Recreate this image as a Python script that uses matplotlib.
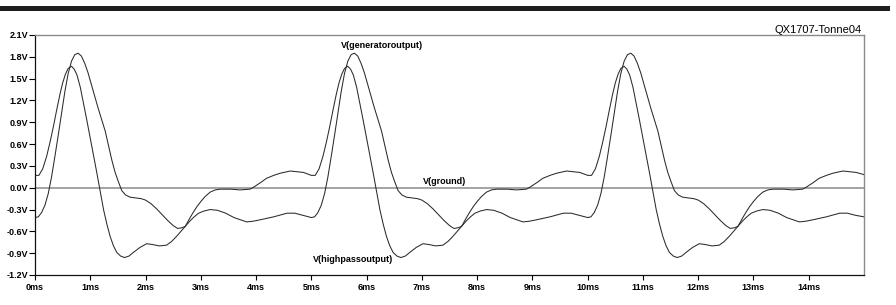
import matplotlib
matplotlib.use("Agg")
import matplotlib.pyplot as plt
from matplotlib.patches import Rectangle

plt.rcParams['font.family'] = ['Liberation Sans', 'DejaVu Sans']

# V(highpassoutput): time (ms) and voltage (V)
hp_ms = [
    0.00, 0.07, 0.14, 0.21, 0.27, 0.33, 0.39, 0.45, 0.50, 0.55, 0.60, 0.66, 0.71, 0.76, 0.82, 0.88, 0.94, 1.00, 1.06,
    1.12, 1.18, 1.24, 1.30, 1.36, 1.42, 1.48, 1.55, 1.62, 1.70, 1.78, 1.90, 2.02, 2.12, 2.25, 2.38, 2.47, 2.56, 2.64,
    2.72, 2.80, 2.87, 2.93, 3.00, 3.08, 3.17, 3.26, 3.35, 3.55, 3.71, 3.89, 3.96, 4.08, 4.19, 4.32, 4.44, 4.62, 4.86,
    5.00, 5.07, 5.14, 5.21, 5.27, 5.33, 5.39, 5.45, 5.50, 5.55, 5.60, 5.66, 5.71, 5.76, 5.82, 5.88, 5.94, 6.00, 6.06,
    6.12, 6.18, 6.24, 6.30, 6.36, 6.42, 6.48, 6.55, 6.62, 6.70, 6.78, 6.90, 7.02, 7.12, 7.25, 7.38, 7.47, 7.56, 7.64,
    7.72, 7.80, 7.87, 7.93, 8.00, 8.08, 8.17, 8.26, 8.35, 8.55, 8.71, 8.89, 8.96, 9.08, 9.19, 9.32, 9.44, 9.62, 9.86,
    10.00, 10.07, 10.14, 10.21, 10.27, 10.33, 10.39, 10.45, 10.50, 10.55, 10.60, 10.66, 10.71, 10.76, 10.82, 10.88,
    10.94, 11.00, 11.06, 11.12, 11.18, 11.24, 11.30, 11.36, 11.42, 11.48, 11.55, 11.62, 11.70, 11.78, 11.90, 12.02,
    12.12, 12.25, 12.38, 12.47, 12.56, 12.64, 12.72, 12.80, 12.87, 12.93, 13.00, 13.08, 13.17, 13.26, 13.35, 13.55,
    13.71, 13.89, 13.96, 14.08, 14.19, 14.32, 14.44, 14.62, 14.86, 15.00,
]
hp_v = [
    0.17, 0.17, 0.26, 0.43, 0.62, 0.83, 1.06, 1.28, 1.44, 1.56, 1.64, 1.67, 1.63, 1.55, 1.38, 1.15, 0.92, 0.68, 0.44,
    0.20, -0.05, -0.30, -0.50, -0.67, -0.80, -0.89, -0.94, -0.96, -0.94, -0.89, -0.82, -0.77, -0.78, -0.80, -0.79,
    -0.74, -0.67, -0.60, -0.53, -0.42, -0.33, -0.26, -0.19, -0.12, -0.06, -0.03, -0.02, -0.02, -0.03, -0.02, 0.01,
    0.07, 0.13, 0.17, 0.20, 0.23, 0.21,
    0.17, 0.17, 0.26, 0.43, 0.62, 0.83, 1.06, 1.28, 1.44, 1.56, 1.64, 1.67, 1.63, 1.55, 1.38, 1.15, 0.92, 0.68, 0.44,
    0.20, -0.05, -0.30, -0.50, -0.67, -0.80, -0.89, -0.94, -0.96, -0.94, -0.89, -0.82, -0.77, -0.78, -0.80, -0.79,
    -0.74, -0.67, -0.60, -0.53, -0.42, -0.33, -0.26, -0.19, -0.12, -0.06, -0.03, -0.02, -0.02, -0.03, -0.02, 0.01,
    0.07, 0.13, 0.17, 0.20, 0.23, 0.21,
    0.17, 0.17, 0.26, 0.43, 0.62, 0.83, 1.06, 1.28, 1.44, 1.56, 1.64, 1.67, 1.63, 1.55, 1.38, 1.15, 0.92, 0.68, 0.44,
    0.20, -0.05, -0.30, -0.50, -0.67, -0.80, -0.89, -0.94, -0.96, -0.94, -0.89, -0.82, -0.77, -0.78, -0.80, -0.79,
    -0.74, -0.67, -0.60, -0.53, -0.42, -0.33, -0.26, -0.19, -0.12, -0.06, -0.03, -0.02, -0.02, -0.03, -0.02, 0.01,
    0.07, 0.13, 0.17, 0.20, 0.23, 0.21, 0.18,
]

# V(generatoroutput)
gen_ms = [
    0.00, 0.06, 0.12, 0.18, 0.24, 0.30, 0.36, 0.42, 0.48, 0.54, 0.60, 0.66, 0.72, 0.78, 0.84, 0.90, 0.96, 1.02, 1.08,
    1.14, 1.20, 1.27, 1.33, 1.39, 1.45, 1.51, 1.57, 1.64, 1.72, 1.82, 1.92, 2.00, 2.10, 2.20, 2.30, 2.40, 2.50, 2.58,
    2.66, 2.72, 2.80, 2.88, 2.96, 3.06, 3.17, 3.30, 3.45, 3.60, 3.83, 3.95, 4.08, 4.32, 4.56, 4.70, 4.85,
    5.00, 5.06, 5.12, 5.18, 5.24, 5.30, 5.36, 5.42, 5.48, 5.54, 5.60, 5.66, 5.72, 5.78, 5.84, 5.90, 5.96, 6.02, 6.08,
    6.14, 6.20, 6.27, 6.33, 6.39, 6.45, 6.51, 6.57, 6.64, 6.72, 6.82, 6.92, 7.00, 7.10, 7.20, 7.30, 7.40, 7.50, 7.58,
    7.66, 7.72, 7.80, 7.88, 7.96, 8.06, 8.17, 8.30, 8.45, 8.60, 8.83, 8.95, 9.08, 9.32, 9.56, 9.70, 9.85,
    10.00, 10.06, 10.12, 10.18, 10.24, 10.30, 10.36, 10.42, 10.48, 10.54, 10.60, 10.66, 10.72, 10.78, 10.84, 10.90,
    10.96, 11.02, 11.08, 11.14, 11.20, 11.27, 11.33, 11.39, 11.45, 11.51, 11.57, 11.64, 11.72, 11.82, 11.92, 12.00,
    12.10, 12.20, 12.30, 12.40, 12.50, 12.58, 12.66, 12.72, 12.80, 12.88, 12.96, 13.06, 13.17, 13.30, 13.45, 13.60,
    13.83, 13.95, 14.08, 14.32, 14.56, 14.70, 14.85, 15.00,
]
gen_v = [
    -0.41, -0.40, -0.34, -0.24, -0.08, 0.15, 0.43, 0.72, 1.02, 1.32, 1.57, 1.74, 1.83, 1.85, 1.81, 1.71, 1.58, 1.42,
    1.26, 1.10, 0.95, 0.78, 0.58, 0.38, 0.21, 0.08, -0.04, -0.10, -0.13, -0.14, -0.15, -0.17, -0.22, -0.29, -0.37,
    -0.45, -0.52, -0.56, -0.55, -0.53, -0.46, -0.40, -0.35, -0.32, -0.30, -0.31, -0.35, -0.41, -0.47, -0.46, -0.44,
    -0.40, -0.35, -0.35, -0.38,
    -0.41, -0.40, -0.34, -0.24, -0.08, 0.15, 0.43, 0.72, 1.02, 1.32, 1.57, 1.74, 1.83, 1.85, 1.81, 1.71, 1.58, 1.42,
    1.26, 1.10, 0.95, 0.78, 0.58, 0.38, 0.21, 0.08, -0.04, -0.10, -0.13, -0.14, -0.15, -0.17, -0.22, -0.29, -0.37,
    -0.45, -0.52, -0.56, -0.55, -0.53, -0.46, -0.40, -0.35, -0.32, -0.30, -0.31, -0.35, -0.41, -0.47, -0.46, -0.44,
    -0.40, -0.35, -0.35, -0.38,
    -0.41, -0.40, -0.34, -0.24, -0.08, 0.15, 0.43, 0.72, 1.02, 1.32, 1.57, 1.74, 1.83, 1.85, 1.81, 1.71, 1.58, 1.42,
    1.26, 1.10, 0.95, 0.78, 0.58, 0.38, 0.21, 0.08, -0.04, -0.10, -0.13, -0.14, -0.15, -0.17, -0.22, -0.29, -0.37,
    -0.45, -0.52, -0.56, -0.55, -0.53, -0.46, -0.40, -0.35, -0.32, -0.30, -0.31, -0.35, -0.41, -0.47, -0.46, -0.44,
    -0.40, -0.35, -0.35, -0.38, -0.40,
]

# V(ground)
ground_ms = [0.0, 15.0]
ground_v = [0.0, 0.0]

y_ticks = [-1.2, -0.9, -0.6, -0.3, 0.0, 0.3, 0.6, 0.9, 1.2, 1.5, 1.8, 2.1]
y_labels = ['-1.2V', '-0.9V', '-0.6V', '-0.3V', '0.0V', '0.3V', '0.6V', '0.9V',
            '1.2V', '1.5V', '1.8V', '2.1V']
x_ticks = [0, 1, 2, 3, 4, 5, 6, 7, 8, 9, 10, 11, 12, 13, 14]
x_labels = ['0ms', '1ms', '2ms', '3ms', '4ms', '5ms', '6ms', '7ms', '8ms', '9ms',
            '10ms', '11ms', '12ms', '13ms', '14ms']

W, H = 896, 305
fig = plt.figure(figsize=(W / 100, H / 100), dpi=100)
fig.patch.set_facecolor('white')

# dark bar across the top
fig.patches.append(Rectangle((0, 1 - 11 / H), 890 / W, 5 / H, transform=fig.transFigure,
                             facecolor='#1e1e1e', edgecolor='none'))

ax = fig.add_axes([35 / W, 30 / H, 829 / W, 240 / H])

ax.plot(ground_ms, ground_v, color='#8a8a8a', linewidth=1.1)
ax.plot(gen_ms, gen_v, color='#2b2b2b', linewidth=0.75)
ax.plot(hp_ms, hp_v, color='#2b2b2b', linewidth=0.75)

ax.set_xlim(0, 15)
ax.set_ylim(-1.2, 2.1)
ax.set_xticks(x_ticks)
ax.set_xticklabels(x_labels, fontsize=6.5, fontweight='bold')
ax.set_yticks(y_ticks)
ax.set_yticklabels(y_labels, fontsize=6.5, fontweight='bold')
ax.tick_params(axis='y', direction='out', length=4, width=0.8, pad=1)
ax.tick_params(axis='x', direction='out', length=3.5, width=0.8, pad=2.5)

for side in ('left', 'bottom'):
    ax.spines[side].set_color('#111111')
    ax.spines[side].set_linewidth(0.9)
for side in ('top', 'right'):
    ax.spines[side].set_color('#8a8a8a')
    ax.spines[side].set_linewidth(1.0)

ax.text(5.53, 1.96, 'V(generatoroutput)', fontsize=6.5, fontweight='bold', ha='left', va='center')
ax.text(7.41, 0.08, 'V(ground)', fontsize=6.5, fontweight='bold', ha='center', va='center')
ax.text(5.75, -0.98, 'V(highpassoutput)', fontsize=6.5, fontweight='bold', ha='center', va='center')

fig.text(862 / W, 1 - 30 / H, 'QX1707-Tonne04', fontsize=8, ha='right', va='center')

fig.savefig('out.png', dpi=100)
